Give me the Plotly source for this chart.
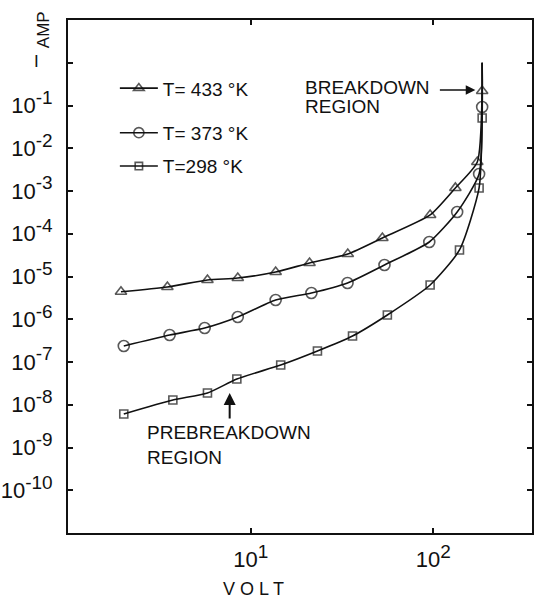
import plotly.graph_objects as go

# ---- data (volts, amps) ----
V_433 = [1.95, 3.5, 5.8, 8.5, 13.7, 21, 34, 52.6, 96, 132, 174, 185]
I_433 = [4.4e-6, 5.7e-6, 8.3e-6, 9.2e-6, 1.27e-5, 2.07e-5, 3.36e-5, 7.96e-5, 2.75e-4, 1.18e-3, 4.77e-3, 0.218]

V_373 = [2.02, 3.6, 5.6, 8.5, 13.7, 21.5, 33.9, 54, 95, 135, 178, 185]
I_373 = [2.37e-7, 4.28e-7, 6.24e-7, 1.13e-6, 2.82e-6, 4.11e-6, 7.05e-6, 1.86e-5, 6.41e-5, 3.23e-4, 2.5e-3, 0.092]

V_298 = [2.02, 3.75, 5.8, 8.4, 14.6, 23.2, 36.1, 56, 96, 139, 178, 185]
I_298 = [6.08e-9, 1.29e-8, 1.88e-8, 4.0e-8, 8.5e-8, 1.81e-7, 4.06e-7, 1.26e-6, 6.33e-6, 4.17e-5, 1.18e-3, 0.051]

# breakdown: curves rise vertically to this current at the breakdown voltage
V_BREAKDOWN = 185
I_BREAKDOWN_TOP = 1.0

LABELS = ["T= 433 °K", "T= 373 °K", "T=298 °K"]
Y_TICKS = [1e-10, 1e-9, 1e-8, 1e-7, 1e-6, 1e-5, 1e-4, 1e-3, 1e-2, 1e-1, 1e0]
Y_EXPONENTS = ["-10", "-9", "-8", "-7", "-6", "-5", "-4", "-3", "-2", "-1", None]
X_TICKS = [10, 100]
X_EXPONENTS = ["1", "2"]

FONT = "Liberation Sans"
BLACK = "#111111"


def power_label(exp):
    if exp is None:
        return ""
    return "10<sup><span style='font-size:19px'>%s</span></sup>" % exp


fig = go.Figure()

series = [
    (V_433, I_433, LABELS[0], "triangle-up-open", 10, "legend"),
    (V_373, I_373, LABELS[1], "circle-open", 11, "legend2"),
    (V_298, I_298, LABELS[2], "square-open", 8, "legend3"),
]
for xs, ys, name, sym, size, leg in series:
    fig.add_trace(go.Scatter(
        x=xs + [V_BREAKDOWN], y=ys + [I_BREAKDOWN_TOP],
        mode="lines+markers", name=name, legend=leg,
        line=dict(color=BLACK, width=1.6, shape="spline", smoothing=0.6),
        marker=dict(symbol=sym, size=[size] * len(xs) + [0], color=BLACK,
                    line=dict(color=BLACK, width=1.6)),
        cliponaxis=False,
    ))

leg_common = dict(xanchor="left", yanchor="middle", bgcolor="rgba(0,0,0,0)",
                  font=dict(family=FONT, size=19, color=BLACK),
                  itemwidth=38, borderwidth=0)
fig.update_layout(
    legend=dict(x=0.101, y=0.867, **leg_common),
    legend2=dict(x=0.101, y=0.780, **leg_common),
    legend3=dict(x=0.101, y=0.715, **leg_common),
)

axis_common = dict(type="log", showgrid=False, zeroline=False, showline=True,
                   linecolor=BLACK, linewidth=2, ticks="inside", tickcolor=BLACK,
                   tickwidth=2, ticklen=5, mirror="ticks", automargin=False,
                   tickfont=dict(family=FONT, size=22, color=BLACK))

fig.update_xaxes(range=[0.0, 2.54], tickvals=X_TICKS,
                 ticktext=[power_label(e) for e in X_EXPONENTS],
                 ticklabelstandoff=6, **axis_common)
fig.update_yaxes(range=[-11, 1], tickvals=Y_TICKS,
                 ticktext=[power_label(e) for e in Y_EXPONENTS],
                 ticklabelstandoff=9, **axis_common)

ann_font = dict(family=FONT, size=19, color=BLACK)
annotations = [
    dict(text="BREAKDOWN", x=0.506, y=0.868, xref="paper", yref="paper",
         xanchor="left", yanchor="middle", showarrow=False, font=ann_font),
    dict(text="REGION", x=0.506, y=0.832, xref="paper", yref="paper",
         xanchor="left", yanchor="middle", showarrow=False, font=ann_font),
    dict(text="PREBREAKDOWN", x=0.166, y=0.195, xref="paper", yref="paper",
         xanchor="left", yanchor="middle", showarrow=False, font=ann_font),
    dict(text="REGION", x=0.166, y=0.148, xref="paper", yref="paper",
         xanchor="left", yanchor="middle", showarrow=False, font=ann_font),
    # arrows
    dict(text="", x=2.23, y=-0.637, xref="x", yref="y", showarrow=True,
         ax=-37, ay=0, arrowhead=2, arrowsize=1.2, arrowwidth=1.6, arrowcolor=BLACK),
    dict(text="", x=0.885, y=-7.725, xref="x", yref="y", showarrow=True,
         ax=0, ay=27, arrowhead=2, arrowsize=1.2, arrowwidth=2, arrowcolor=BLACK),
    # axis titles
    dict(text="V O L T", x=0.399, y=-0.11, xref="paper", yref="paper",
         xanchor="center", yanchor="middle", showarrow=False,
         font=dict(family=FONT, size=18, color=BLACK)),
    dict(text="AMP", x=-0.054, y=0.982, xref="paper", yref="paper",
         xanchor="center", yanchor="middle", showarrow=False, textangle=-90,
         font=dict(family=FONT, size=17, color=BLACK)),
    dict(text="I", x=-0.067, y=0.920, xref="paper", yref="paper",
         xanchor="center", yanchor="middle", showarrow=False,
         font=dict(family=FONT, size=17, color=BLACK)),
]

fig.update_layout(
    width=537, height=600,
    margin=dict(l=68, r=5, t=20, b=67),
    paper_bgcolor="white", plot_bgcolor="white",
    annotations=annotations,
    showlegend=True,
)

fig.write_html(
    "out.html",
    config={"displayModeBar": False},
    post_script="document.body.style.margin='0';document.body.style.overflow='hidden';",
)
